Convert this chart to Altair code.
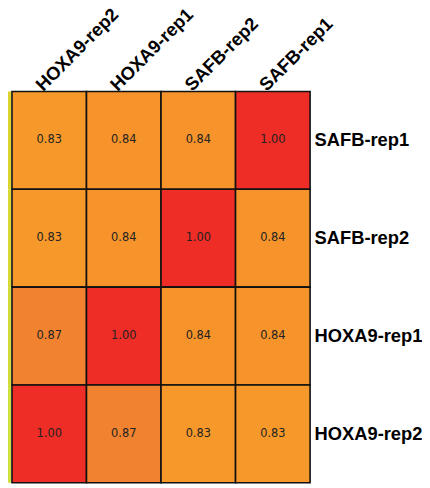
import altair as alt
import pandas as pd

columns = ["HOXA9-rep2", "HOXA9-rep1", "SAFB-rep2", "SAFB-rep1"]
rows = ["SAFB-rep1", "SAFB-rep2", "HOXA9-rep1", "HOXA9-rep2"]
values = [
    [0.83, 0.84, 0.84, 1.00],
    [0.83, 0.84, 1.00, 0.84],
    [0.87, 1.00, 0.84, 0.84],
    [1.00, 0.87, 0.83, 0.83],
]
row_groups = ["g1", "g2", "g3", "g4"]
group_colors = ["#dcd42c", "#d8d832", "#d3db38", "#cde03e"]

records = []
for r, row in enumerate(rows):
    for c, col in enumerate(columns):
        records.append({"row": row, "col": col, "value": values[r][c]})
df = pd.DataFrame(records)
strip_df = pd.DataFrame({"row": rows, "group": row_groups})

color_scale = alt.Scale(domain=[0.83, 0.87, 1.0], range=["#f7992a", "#f08230", "#ee2d26"])

base = alt.Chart(df).encode(
    x=alt.X("col:N", sort=columns,
            axis=alt.Axis(orient="top", title=None, labelAngle=-45, labelAlign="left",
                          labelBaseline="alphabetic", labelFont="Liberation Sans",
                          labelFontWeight="bold", labelFontSize=18.5, labelColor="#000",
                          labelPadding=0, labelOffset=-6, domain=False, ticks=False)),
    y=alt.Y("row:N", sort=rows,
            axis=alt.Axis(orient="right", title=None, labelFont="Liberation Sans",
                          labelFontWeight="bold", labelFontSize=18.5, labelColor="#000",
                          labelPadding=4, domain=False, ticks=False)),
)

rects = base.mark_rect(stroke="#111", strokeWidth=1.6).encode(
    color=alt.Color("value:Q", scale=color_scale, legend=None)
)
texts = base.mark_text(font="DejaVu Sans", fontSize=11.5, color="#222").encode(
    text=alt.Text("value:Q", format=".2f")
)
heat = alt.layer(rects, texts).properties(width=301, height=395)

strip = alt.Chart(strip_df).mark_rect().encode(
    y=alt.Y("row:N", sort=rows, axis=None),
    color=alt.Color("group:N", scale=alt.Scale(domain=row_groups, range=group_colors), legend=None),
).properties(width=3, height=395)

chart = alt.hconcat(strip, heat, spacing=0).resolve_scale(color="independent").configure_view(
    stroke=None
).properties(padding={"left": 0, "top": -6, "right": 0, "bottom": 0})

chart.save("out.html", embed_options={"renderer": "svg", "actions": False})
